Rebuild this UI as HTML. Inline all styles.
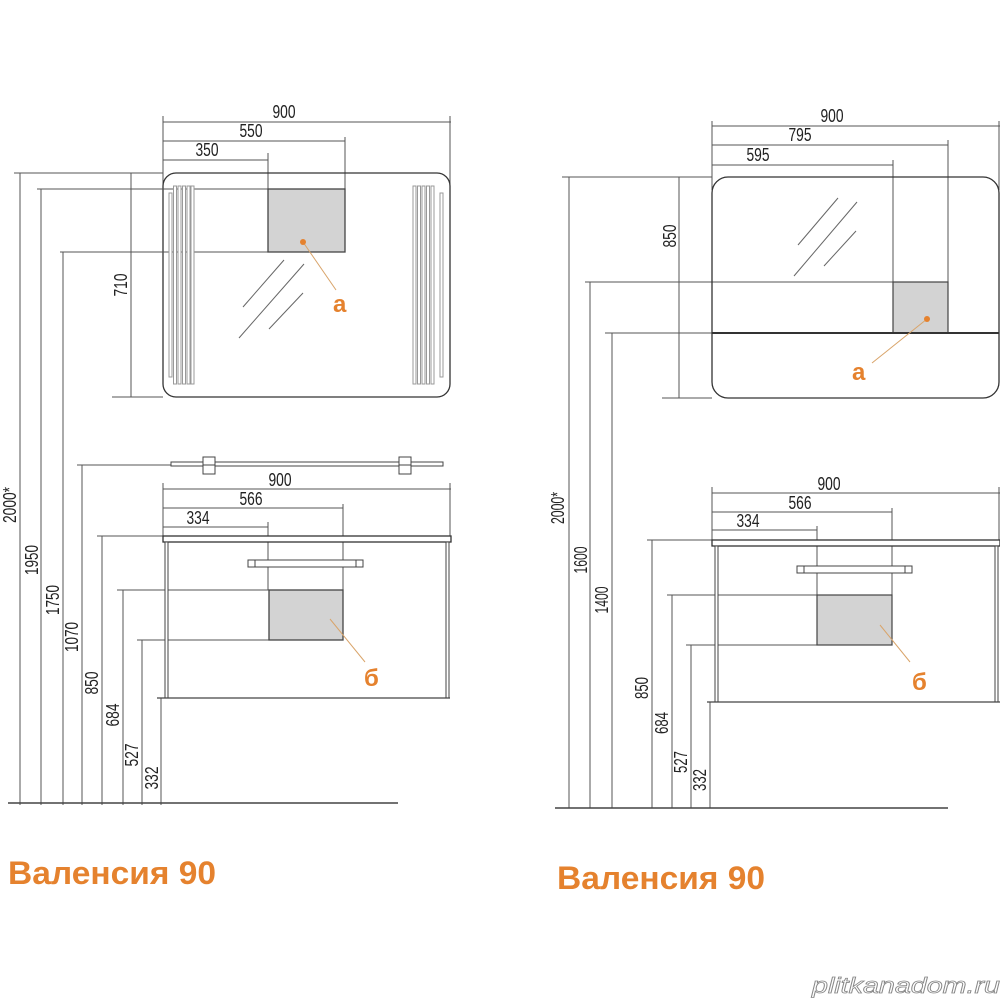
<!DOCTYPE html>
<html><head><meta charset="utf-8"><style>
html,body{margin:0;padding:0;background:#fff}
svg{display:block}
.d{font-family:"Liberation Sans",sans-serif;font-size:18px;fill:#222}
.o{font-family:"Liberation Sans",sans-serif;font-weight:bold;fill:#e5822e}
</style></head><body>
<svg width="1000" height="1000" viewBox="0 0 1000 1000" xmlns="http://www.w3.org/2000/svg">
<g stroke="#555" stroke-width="1" fill="none">
<line x1="163" y1="122" x2="451" y2="122"/><line x1="163" y1="141" x2="345" y2="141"/><line x1="163" y1="160" x2="268" y2="160"/>
<line x1="163" y1="116" x2="163" y2="185"/><line x1="450" y1="116" x2="450" y2="185"/>
<line x1="345" y1="137" x2="345" y2="189"/><line x1="268" y1="153" x2="268" y2="189"/>
<rect x="163" y="173" width="287" height="224" rx="13" stroke="#333" stroke-width="1.3"/>
<line x1="14" y1="173" x2="163" y2="173"/>
<line x1="37" y1="189" x2="268" y2="189"/>
<line x1="60" y1="252" x2="268" y2="252"/>
<line x1="112" y1="397" x2="163" y2="397"/>
<line x1="131" y1="173" x2="131" y2="397"/>
<line x1="20" y1="173" x2="20" y2="805"/>
<line x1="41" y1="189" x2="41" y2="805"/>
<line x1="63" y1="252" x2="63" y2="805"/>
<line x1="82" y1="465" x2="82" y2="805"/><line x1="77" y1="465" x2="171" y2="465"/>
<line x1="102" y1="536" x2="102" y2="805"/><line x1="97" y1="536" x2="163" y2="536"/>
<line x1="123" y1="590" x2="123" y2="805"/><line x1="117" y1="590" x2="269" y2="590"/>
<line x1="142" y1="640" x2="142" y2="805"/><line x1="137" y1="640" x2="269" y2="640"/>
<line x1="161" y1="698" x2="161" y2="805"/>
<line x1="8" y1="803" x2="398" y2="803" stroke="#444" stroke-width="1.5"/>
</g>
<g fill="#fff" stroke="#999" stroke-width="1">
<rect x="169" y="193" width="3" height="184"/>
<rect x="173.5" y="186" width="3" height="198"/><rect x="178" y="186" width="3" height="198"/><rect x="182.5" y="186" width="3" height="198"/><rect x="187" y="186" width="3" height="198"/><rect x="191" y="186" width="3" height="198"/>
<rect x="413" y="186" width="3" height="198"/><rect x="417.5" y="186" width="3" height="198"/><rect x="422" y="186" width="3" height="198"/><rect x="426.5" y="186" width="3" height="198"/><rect x="431" y="186" width="3" height="198"/>
<rect x="440" y="193" width="3" height="184"/>
</g>
<rect x="268" y="189" width="77" height="63" fill="#d3d3d3" stroke="#444" stroke-width="1.3"/>
<g stroke="#666" stroke-width="1"><line x1="243" y1="307" x2="284" y2="260"/><line x1="239" y1="338" x2="304" y2="264"/><line x1="269" y1="329" x2="303" y2="293"/></g>
<line x1="303" y1="242" x2="336" y2="290" stroke="#d9a46a" stroke-width="1"/>
<circle cx="303" cy="242" r="3" fill="#e5822e"/>
<text class="o" x="333" y="312" font-size="24">а</text>
<rect x="171" y="462" width="272" height="4" fill="#fff" stroke="#444"/>
<rect x="203" y="457" width="12" height="17" fill="#fff" stroke="#444"/><line x1="203" y1="465" x2="215" y2="465" stroke="#444"/>
<rect x="399" y="457" width="12" height="17" fill="#fff" stroke="#444"/><line x1="399" y1="465" x2="411" y2="465" stroke="#444"/>
<g stroke="#555" fill="none">
<line x1="163" y1="489" x2="451" y2="489"/><line x1="163" y1="508" x2="343" y2="508"/><line x1="163" y1="527" x2="268" y2="527"/>
<line x1="163" y1="483" x2="163" y2="536"/><line x1="450" y1="483" x2="450" y2="536"/><line x1="343" y1="504" x2="343" y2="590"/><line x1="268" y1="522" x2="268" y2="590"/>
</g>
<rect x="163" y="536" width="288" height="6" fill="#fff" stroke="#333" stroke-width="1.3"/>
<rect x="165" y="542" width="3" height="156" fill="#fff" stroke="#444"/>
<rect x="446" y="542" width="3" height="156" fill="#fff" stroke="#444"/>
<line x1="157" y1="698" x2="450" y2="698" stroke="#444" stroke-width="1.2"/>
<rect x="248" y="560" width="115" height="7" fill="#fff" stroke="#444"/><line x1="255" y1="560" x2="255" y2="567" stroke="#444"/><line x1="356" y1="560" x2="356" y2="567" stroke="#444"/>
<rect x="269" y="590" width="74" height="50" fill="#d3d3d3" stroke="#444" stroke-width="1.3"/>
<line x1="330" y1="619" x2="365" y2="662" stroke="#d9a46a"/>
<text class="o" x="364" y="686" font-size="24">б</text>
<g class="d" text-anchor="middle">
<text x="284" y="118" textLength="23" lengthAdjust="spacingAndGlyphs">900</text>
<text x="251" y="137" textLength="23" lengthAdjust="spacingAndGlyphs">550</text>
<text x="207" y="156" textLength="23" lengthAdjust="spacingAndGlyphs">350</text>
<text x="280" y="486" textLength="23" lengthAdjust="spacingAndGlyphs">900</text>
<text x="251" y="505" textLength="23" lengthAdjust="spacingAndGlyphs">566</text>
<text x="198" y="524" textLength="23" lengthAdjust="spacingAndGlyphs">334</text>
<text transform="translate(127,285) rotate(-90)" textLength="23" lengthAdjust="spacingAndGlyphs">710</text>
<text transform="translate(16,505) rotate(-90)" textLength="36" lengthAdjust="spacingAndGlyphs">2000*</text>
<text transform="translate(38,560) rotate(-90)" textLength="30" lengthAdjust="spacingAndGlyphs">1950</text>
<text transform="translate(59,600) rotate(-90)" textLength="30" lengthAdjust="spacingAndGlyphs">1750</text>
<text transform="translate(78,637) rotate(-90)" textLength="30" lengthAdjust="spacingAndGlyphs">1070</text>
<text transform="translate(98,683) rotate(-90)" textLength="23" lengthAdjust="spacingAndGlyphs">850</text>
<text transform="translate(119,715) rotate(-90)" textLength="23" lengthAdjust="spacingAndGlyphs">684</text>
<text transform="translate(138,755) rotate(-90)" textLength="23" lengthAdjust="spacingAndGlyphs">527</text>
<text transform="translate(158,778) rotate(-90)" textLength="23" lengthAdjust="spacingAndGlyphs">332</text>
</g>

<g stroke="#555" fill="none">
<line x1="712" y1="126" x2="1000" y2="126"/><line x1="712" y1="145" x2="948" y2="145"/><line x1="712" y1="165" x2="893" y2="165"/>
<line x1="712" y1="121" x2="712" y2="190"/><line x1="999" y1="121" x2="999" y2="190"/><line x1="948" y1="140" x2="948" y2="282"/><line x1="893" y1="160" x2="893" y2="282"/>
<line x1="562" y1="177" x2="712" y2="177"/>
<line x1="569" y1="177" x2="569" y2="808"/>
<line x1="585" y1="282" x2="893" y2="282"/><line x1="590" y1="282" x2="590" y2="808"/>
<line x1="605" y1="333" x2="712" y2="333"/><line x1="612" y1="333" x2="612" y2="808"/>
<line x1="679" y1="177" x2="679" y2="398"/><line x1="662" y1="398" x2="712" y2="398"/>
</g>
<rect x="712" y="177" width="287" height="221" rx="16" fill="none" stroke="#333" stroke-width="1.3"/>
<rect x="893" y="282" width="55" height="51" fill="#d3d3d3" stroke="#444" stroke-width="1.2"/>
<line x1="712" y1="333" x2="999" y2="333" stroke="#333" stroke-width="2"/>
<g stroke="#666"><line x1="798" y1="245" x2="838" y2="198"/><line x1="794" y1="276" x2="857" y2="202"/><line x1="824" y1="266" x2="856" y2="231"/></g>
<line x1="927" y1="319" x2="872" y2="363" stroke="#d9a46a"/>
<circle cx="927" cy="319" r="3" fill="#e5822e"/>
<text class="o" x="852" y="380" font-size="24">а</text>
<g stroke="#555" fill="none">
<line x1="712" y1="493" x2="1000" y2="493"/><line x1="712" y1="512" x2="892" y2="512"/><line x1="712" y1="530" x2="817" y2="530"/>
<line x1="712" y1="487" x2="712" y2="540"/><line x1="999" y1="487" x2="999" y2="540"/><line x1="892" y1="508" x2="892" y2="595"/><line x1="817" y1="526" x2="817" y2="595"/>
<line x1="647" y1="540" x2="712" y2="540"/><line x1="652" y1="540" x2="652" y2="808"/>
<line x1="667" y1="595" x2="817" y2="595"/><line x1="672" y1="595" x2="672" y2="808"/>
<line x1="686" y1="645" x2="817" y2="645"/><line x1="691" y1="645" x2="691" y2="808"/>
<line x1="710" y1="702" x2="710" y2="808"/>
<line x1="555" y1="808" x2="948" y2="808" stroke="#444" stroke-width="1.5"/>
</g>
<rect x="712" y="540" width="288" height="6" fill="#fff" stroke="#333" stroke-width="1.3"/>
<rect x="715" y="546" width="3" height="156" fill="#fff" stroke="#444"/>
<rect x="995" y="546" width="3" height="156" fill="#fff" stroke="#444"/>
<line x1="707" y1="702" x2="1000" y2="702" stroke="#444" stroke-width="1.2"/>
<rect x="797" y="566" width="115" height="7" fill="#fff" stroke="#444"/><line x1="804" y1="566" x2="804" y2="573" stroke="#444"/><line x1="905" y1="566" x2="905" y2="573" stroke="#444"/>
<rect x="817" y="595" width="75" height="50" fill="#d3d3d3" stroke="#444" stroke-width="1.2"/>
<line x1="880" y1="625" x2="910" y2="662" stroke="#d9a46a"/>
<text class="o" x="912" y="690" font-size="24">б</text>
<g class="d" text-anchor="middle">
<text x="832" y="122" textLength="23" lengthAdjust="spacingAndGlyphs">900</text>
<text x="800" y="141" textLength="23" lengthAdjust="spacingAndGlyphs">795</text>
<text x="758" y="161" textLength="23" lengthAdjust="spacingAndGlyphs">595</text>
<text x="829" y="490" textLength="23" lengthAdjust="spacingAndGlyphs">900</text>
<text x="800" y="509" textLength="23" lengthAdjust="spacingAndGlyphs">566</text>
<text x="748" y="527" textLength="23" lengthAdjust="spacingAndGlyphs">334</text>
<text transform="translate(676,236) rotate(-90)" textLength="23" lengthAdjust="spacingAndGlyphs">850</text>
<text transform="translate(564,508) rotate(-90)" textLength="32" lengthAdjust="spacingAndGlyphs">2000*</text>
<text transform="translate(587,560) rotate(-90)" textLength="27" lengthAdjust="spacingAndGlyphs">1600</text>
<text transform="translate(608,600) rotate(-90)" textLength="27" lengthAdjust="spacingAndGlyphs">1400</text>
<text transform="translate(648,688) rotate(-90)" textLength="22" lengthAdjust="spacingAndGlyphs">850</text>
<text transform="translate(668,723) rotate(-90)" textLength="22" lengthAdjust="spacingAndGlyphs">684</text>
<text transform="translate(687,762) rotate(-90)" textLength="22" lengthAdjust="spacingAndGlyphs">527</text>
<text transform="translate(706,780) rotate(-90)" textLength="22" lengthAdjust="spacingAndGlyphs">332</text>
</g>
<text class="o" x="8" y="884" font-size="32" textLength="208" lengthAdjust="spacingAndGlyphs">Валенсия 90</text>
<text class="o" x="557" y="889" font-size="32" textLength="208" lengthAdjust="spacingAndGlyphs">Валенсия 90</text>
<text x="812" y="993" font-family="Liberation Sans,sans-serif" font-style="italic" font-size="22" fill="#fff" stroke="#888" stroke-width="0.8" textLength="188" lengthAdjust="spacingAndGlyphs">plitkanadom.ru</text>
</svg>
</body></html>
